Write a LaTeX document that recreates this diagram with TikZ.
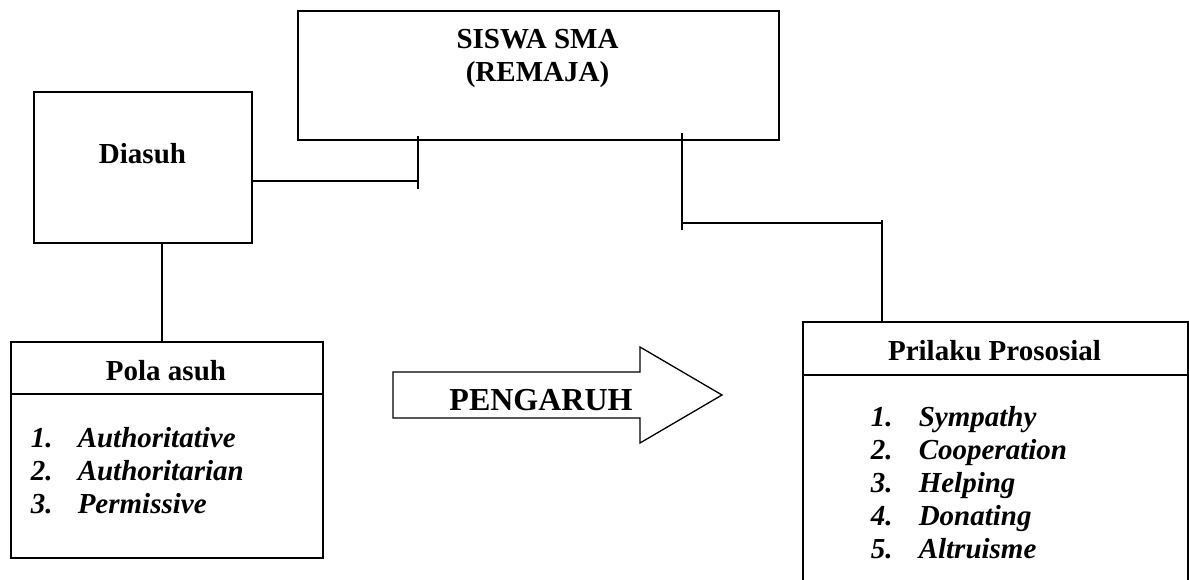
\documentclass[tikz,border=0pt]{standalone}
\usepackage{fontspec}
\setmainfont{Liberation Serif}
\begin{document}
\begin{tikzpicture}[x=1pt,y=-1pt,line width=1.5pt,
  box/.style={draw,rectangle,inner sep=0pt,anchor=north west},
  lbl/.style={inner sep=0pt,anchor=base,font=\fontsize{29}{33}\selectfont\bfseries},
  item/.style={inner sep=0pt,anchor=base west,font=\fontsize{29}{33}\selectfont\bfseries\itshape},
  conn/.style={draw,line width=1.5pt}]
\useasboundingbox (0,0) rectangle (1189,579);
\begin{scope}
\clip (0,0) rectangle (1189,579);
% boxes
\node[box,minimum width=481pt,minimum height=129pt] (siswa) at (297,10) {};
\node[box,minimum width=218pt,minimum height=151pt] (diasuh) at (33,91) {};
\node[box,minimum width=312pt,minimum height=52pt] (polahead) at (10,341) {};
\node[box,minimum width=312pt,minimum height=164pt] (polabody) at (10,393) {};
\node[box,minimum width=385pt,minimum height=53pt] (prihead) at (802,321) {};
\node[box,minimum width=385pt,minimum height=260pt] (pribody) at (802,374) {};
% texts
\node[lbl] (t1) at (537.5,48) {SISWA SMA};
\node[lbl] (t2) at (537.5,81) {(REMAJA)};
\node[lbl] (t3) at (142.5,163) {Diasuh};
\node[lbl] (t4) at (166,380) {Pola asuh};
\node[lbl] (t5) at (994.5,360) {Prilaku Prososial};
% lists
\foreach \n/\t/\y in {1/Authoritative/447,2/Authoritarian/480,3/Permissive/513}{
  \node[item] (pn\n) at (30,\y) {\n.};
  \node[item] (pt\n) at (77,\y) {\t};
}
\foreach \n/\t/\y in {1/Sympathy/426,2/Cooperation/459,3/Helping/492,4/Donating/525,5/Altruisme/558}{
  \node[item] (qn\n) at (870,\y) {\n.};
  \node[item] (qt\n) at (918,\y) {\t};
}
% arrow
\draw[line width=1.3pt] (393,372) -- (640,372) -- (640,347) -- (722,395) -- (640,443) -- (640,418) -- (393,418) -- cycle;
\node[inner sep=0pt,anchor=base,font=\fontsize{32}{36}\selectfont\bfseries] (peng) at (541,410) {PENGARUH};
% connectors
\coordinate (tL) at (418,181);
\coordinate (tLtop) at (418,136);
\coordinate (tLbot) at (418,189);
\draw (diasuh.east |- tL) -- (tL);
\draw (tLtop) -- (tLbot);
\coordinate (dc) at (162,0);
\draw (dc |- diasuh.south) -- (dc |- polahead.north);
\coordinate (tRtop) at (682,133);
\coordinate (tRbot) at (682,230);
\coordinate (hR) at (682,223);
\coordinate (vR) at (882,223);
\coordinate (vRtop) at (882,220);
\draw (tRtop) -- (tRbot);
\draw (hR) -- (vR);
\draw (vRtop) -- (vRtop |- prihead.north);
\end{scope}
\end{tikzpicture}
\end{document}
